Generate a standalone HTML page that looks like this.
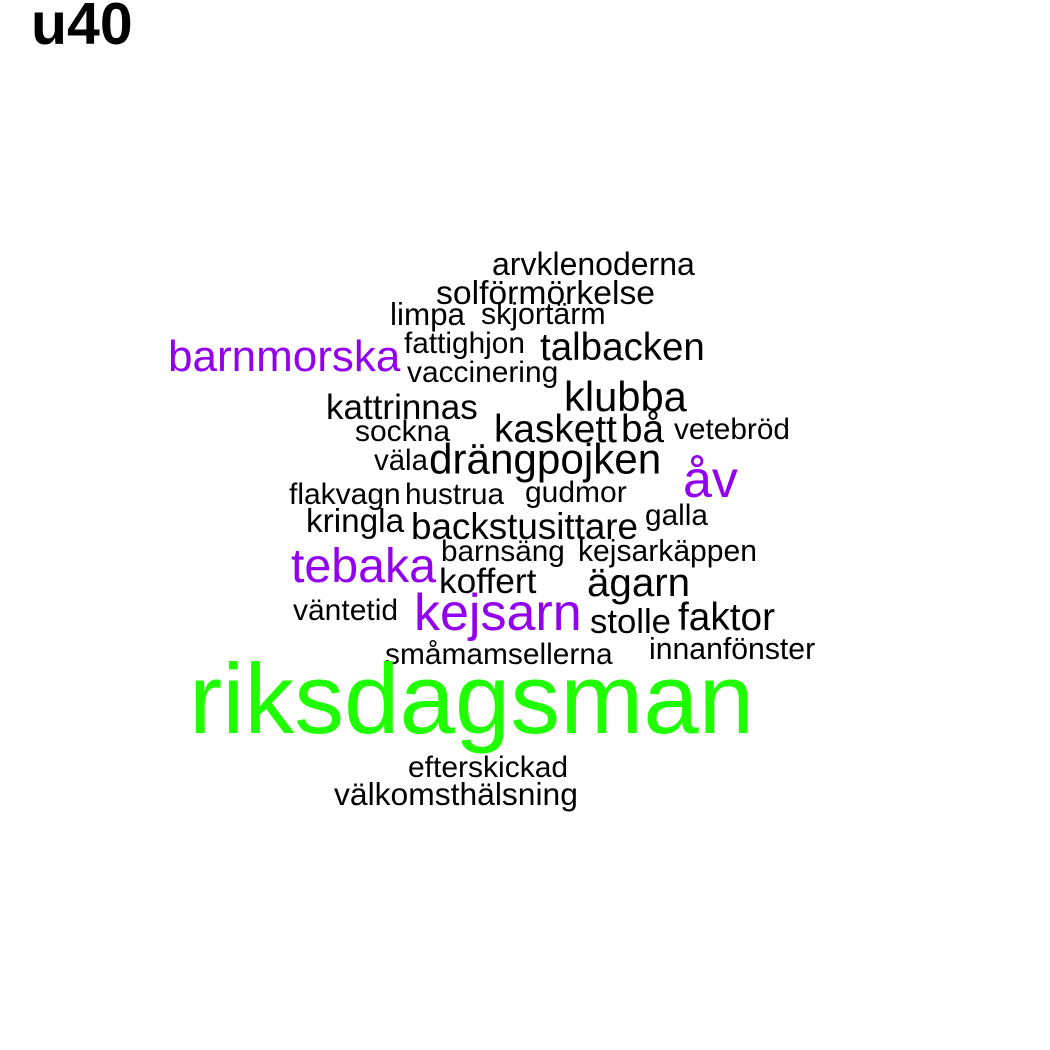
<!DOCTYPE html>
<html lang="sv">
<head>
<meta charset="utf-8">
<title>u40</title>
<style>
html,body{margin:0;padding:0;background:#fff;}
svg{display:block;}
text{font-family:"Liberation Sans",Arial,sans-serif;}
</style>
</head>
<body>
<svg id="cloud" width="1050" height="1050" viewBox="0 0 1050 1050" xmlns="http://www.w3.org/2000/svg">
<rect width="1050" height="1050" fill="#ffffff"/>
<text x="31" y="44" font-size="59" font-weight="bold" fill="#000">u40</text>
<g id="words" transform="translate(1,0)">
<text x="491" y="275">arvklenoderna</text>
<text x="435" y="304">solförmörkelse</text>
<text x="389" y="325">limpa</text>
<text x="480" y="324">skjortärm</text>
<text x="403" y="353">fattighjon</text>
<text x="539" y="360">talbacken</text>
<text x="167" y="371">barnmorska</text>
<text x="406" y="382">vaccinering</text>
<text x="563" y="411">klubba</text>
<text x="325" y="419">kattrinnas</text>
<text x="354" y="441">sockna</text>
<text x="493" y="442">kaskett</text>
<text x="620" y="442">bå</text>
<text x="673" y="439">vetebröd</text>
<text x="373" y="470">väla</text>
<text x="428" y="473.5">drängpojken</text>
<text x="682" y="497">åv</text>
<text x="288" y="504">flakvagn</text>
<text x="404" y="504">hustrua</text>
<text x="524" y="502">gudmor</text>
<text x="644" y="525">galla</text>
<text x="305" y="532">kringla</text>
<text x="410" y="539">backstusittare</text>
<text x="440" y="561">barnsäng</text>
<text x="577" y="561">kejsarkäppen</text>
<text x="290" y="582">tebaka</text>
<text x="438" y="593">koffert</text>
<text x="586" y="596">ägarn</text>
<text x="292" y="620">väntetid</text>
<text x="413" y="630">kejsarn</text>
<text x="589" y="633">stolle</text>
<text x="677" y="630">faktor</text>
<text x="384" y="664">småmamsellerna</text>
<text x="648" y="659">innanfönster</text>
<text x="188" y="733">riksdagsman</text>
<text x="407" y="777">efterskickad</text>
<text x="333" y="805">välkomsthälsning</text>
</g>
</svg>
<script>
// Word frequencies (relative units), in the same order as the words in the SVG.
const wordList = ["arvklenoderna","solförmörkelse","limpa","skjortärm","fattighjon","talbacken","barnmorska","vaccinering","klubba","kattrinnas","sockna","kaskett","bå","vetebröd","väla","drängpojken","åv","flakvagn","hustrua","gudmor","galla","kringla","backstusittare","barnsäng","kejsarkäppen","tebaka","koffert","ägarn","väntetid","kejsarn","stolle","faktor","småmamsellerna","innanfönster","riksdagsman","efterskickad","välkomsthälsning"];
const frequencies = [32,33.7,31.4,30.3,29.8,38.5,44,29.9,41.7,35,30,38.8,38.7,29.8,29.4,42.2,52,30,29.7,30,29.8,33.3,36.8,29.7,30.1,48.3,35.3,40.3,30,52,34.7,38.8,29.9,30.2,99.7,30,31.8];
const colorClasses = ["low","mid","high"];

function sizeScale(v){ return v; }
function colorScale(v){
  const cls = v >= 90 ? colorClasses[2] : v >= 43 ? colorClasses[1] : colorClasses[0];
  return {low:"#000000", mid:"#9300ef", high:"#1fff00"}[cls];
}
const nodes = document.querySelectorAll('#words text');
nodes.forEach(function(node){
  const i = wordList.indexOf(node.textContent);
  node.setAttribute('font-size', sizeScale(frequencies[i]));
  node.setAttribute('fill', colorScale(frequencies[i]));
});
</script>
</body>
</html>
